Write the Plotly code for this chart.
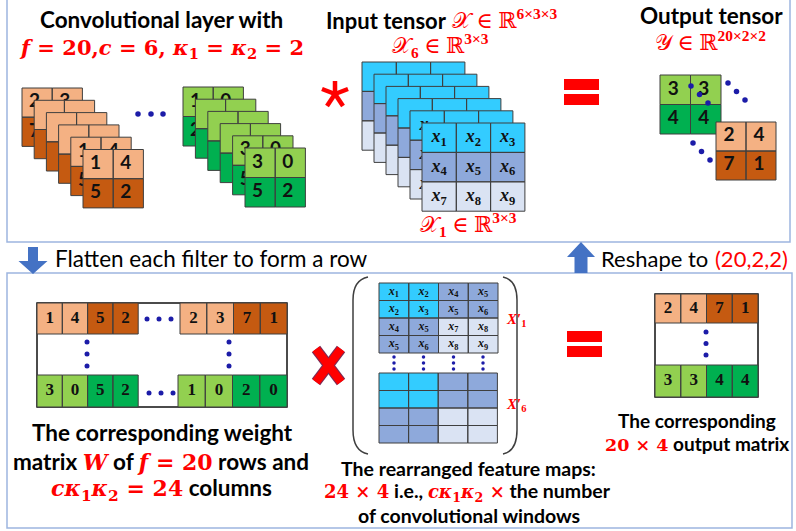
import plotly.graph_objects as go

W, H = 796, 531

# ---------------- data ----------------
orange_front = [[1, 4], [5, 2]]
orange_back = [[2, 3], [7, 1]]
green_front = [[3, 0], [5, 2]]
green_back = [[1, 0], [2, 0]]
input_front = [[1, 2, 3], [4, 5, 6], [7, 8, 9]]
output_green = [[3, 3], [4, 4]]
output_orange = [[2, 4], [7, 1]]
w_first_left = [1, 4, 5, 2]
w_first_right = [2, 3, 7, 1]
w_last_left = [3, 0, 5, 2]
w_last_right = [1, 0, 2, 0]
unfold_first = [[1, 2, 4, 5], [2, 3, 5, 6], [4, 5, 7, 8], [5, 6, 8, 9]]
out_first = [2, 4, 7, 1]
out_last = [3, 3, 4, 4]

# ---------------- styles ----------------
OR_L, OR_D = "#F4B183", "#C55A11"
GR_L, GR_D = "#92D050", "#00B050"
CY, BL, LB = "#33CCFF", "#8EA9DB", "#DAE3F3"
DOT = "#1C1CA8"
RED = "#FF0000"
EDGE = "#3F3F3F"
PANEL = "#9DB5E0"
ARROW = "#4472C4"
SANS = "Lato, Open Sans, sans-serif"
SERIF = "Liberation Serif, DejaVu Serif, serif"
MATH = "DejaVu Serif, Liberation Serif, serif"

fig = go.Figure()


def xsub(i):
    return f"<i>x</i><sub>{i}</sub>"


def add_grid(x0, y0, cws, chs, colors, texts=None, tsize=16, tfamily=SANS,
             dx=0.0, border=EDGE, bw=1.0):
    nrow, ncol = len(colors), len(colors[0])
    if not isinstance(cws, list):
        cws = [cws] * ncol
    if not isinstance(chs, list):
        chs = [chs] * nrow
    xe = [x0]
    for w in cws:
        xe.append(xe[-1] + w)
    ye = [y0]
    for h in chs:
        ye.append(ye[-1] + h)
    groups = {}
    bx, by = [], []
    for r in range(nrow):
        for c in range(ncol):
            xa, xb, ya, yb = xe[c], xe[c + 1], ye[r], ye[r + 1]
            gx, gy = groups.setdefault(colors[r][c], ([], []))
            gx += [xa, xb, xb, xa, xa, None]
            gy += [ya, ya, yb, yb, ya, None]
            bx += [xa, xb, xb, xa, xa, None]
            by += [ya, ya, yb, yb, ya, None]
    for col, (gx, gy) in groups.items():
        fig.add_trace(go.Scatter(x=gx, y=gy, mode="lines", fill="toself",
                                 fillcolor=col, line=dict(width=0, color=col),
                                 hoverinfo="skip", showlegend=False))
    fig.add_trace(go.Scatter(x=bx, y=by, mode="lines",
                             line=dict(width=bw, color=border),
                             hoverinfo="skip", showlegend=False))
    if texts is not None:
        tx, ty, tt = [], [], []
        for r in range(nrow):
            for c in range(ncol):
                if texts[r][c] is None:
                    continue
                tx.append((xe[c] + xe[c + 1]) / 2 + dx)
                ty.append((ye[r] + ye[r + 1]) / 2)
                tt.append(f"<b>{texts[r][c]}</b>")
        fig.add_trace(go.Scatter(x=tx, y=ty, mode="text", text=tt,
                                 textposition="middle center",
                                 textfont=dict(size=tsize, family=tfamily, color="#111111"),
                                 hoverinfo="skip", showlegend=False))


def add_dots(xs, ys, size=5.5):
    fig.add_trace(go.Scatter(x=xs, y=ys, mode="markers",
                             marker=dict(size=size, color=DOT, line=dict(width=0)),
                             hoverinfo="skip", showlegend=False))


shapes = []
# panels
shapes.append(dict(type="rect", x0=7, y0=-4, x1=790, y1=242, line=dict(color=PANEL, width=1.5)))
shapes.append(dict(type="rect", x0=7, y0=273, x1=792, y1=528, line=dict(color=PANEL, width=1.5)))

# ---------- top: filter stacks ----------
oc = [[OR_L, OR_L], [OR_D, OR_D]]
gc = [[GR_L, GR_L], [GR_D, GR_D]]
orange_layers = [orange_back, None, None, None, orange_front, orange_front]
green_layers = [green_back, None, None, None, green_front, green_front]
for k, vals in enumerate(orange_layers):
    add_grid(22 + 12.2 * k, 88 + 12.3 * k, 30.2, 29.2, oc, vals, tsize=19, dx=-2.5)
add_dots([138, 151, 163], [114, 114, 114])
for k, vals in enumerate(green_layers):
    add_grid(183 + 12.4 * k, 87 + 12.2 * k, 30.2, 29.5, gc, vals, tsize=19, dx=-2.5)

# ---------- input tensor ----------
ic = [[CY] * 3, [BL] * 3, [LB] * 3]
input_txt = [[xsub(v) for v in row] for row in input_front]
input_peek = [[xsub(row[0]), None, None] for row in input_front]
input_layers = [None, None, None, None, input_peek, input_txt]
for k, vals in enumerate(input_layers):
    add_grid(362 + 12 * k, 62 + 12.2 * k, 34.3, 29.4, ic, vals, tsize=18, tfamily=SERIF)

# ---------- output tensor ----------
add_grid(660, 75, 30.5, 29.5, gc, output_green, tsize=19, dx=-2)
add_grid(716, 122, 30, 29, oc, output_orange, tsize=19, dx=-2)
add_dots([691, 699.5, 708, 728, 736.5, 745, 693, 701.5, 710],
         [86, 94.5, 103, 83, 91.5, 100, 143, 151.5, 160])

# ---------- weight matrix ----------
shapes.append(dict(type="rect", x0=37, y0=303, x1=287, y1=407,
                   fillcolor="white", line=dict(color="#111111", width=1.5), layer="below"))
add_grid(37, 303, 25.3, 31, [[OR_L, OR_L, OR_D, OR_D]], [w_first_left], tsize=17, tfamily=SERIF)
add_grid(180, 303, 26.75, 31, [[OR_L, OR_L, OR_D, OR_D]], [w_first_right], tsize=17, tfamily=SERIF)
add_grid(37, 375, 25.3, 32, [[GR_L, GR_L, GR_D, GR_D]], [w_last_left], tsize=17, tfamily=SERIF)
add_grid(178, 375, 27.25, 32, [[GR_L, GR_L, GR_D, GR_D]], [w_last_right], tsize=17, tfamily=SERIF)
add_dots([147, 159, 171, 149, 161, 173, 87, 87, 87, 229, 229, 229],
         [319, 319, 319, 393, 393, 393, 342, 354, 366, 342, 354, 366], size=5)

# ---------- unfolded feature maps ----------
uc = [[CY, CY, BL, BL], [CY, CY, BL, BL], [BL, BL, LB, LB], [BL, BL, LB, LB]]
add_grid(379, 283, 29.75, 17.5, uc, [[xsub(v) for v in row] for row in unfold_first],
         tsize=12, tfamily=SERIF)
add_grid(379, 373, 29.6, 17.5, uc, None)
ux = [394, 423.5, 453.5, 483]
add_dots([x for x in ux for _ in range(3)], [357, 363, 369] * 4, size=3.5)
shapes.append(dict(type="path", path="M 368 277 Q 353 280 353 300 L 353 430 Q 353 451 368 454",
                   line=dict(color="#3F3F3F", width=1.5)))
shapes.append(dict(type="path", path="M 503 277 Q 517 280 517 300 L 517 430 Q 517 451 503 454",
                   line=dict(color="#3F3F3F", width=1.5)))

# ---------- output matrix ----------
shapes.append(dict(type="rect", x0=655, y0=294, x1=758, y1=397,
                   fillcolor="white", line=dict(color="#111111", width=1.5), layer="below"))
add_grid(655, 294, 25.75, 29, [[OR_L, OR_L, OR_D, OR_D]], [out_first], tsize=17, tfamily=SERIF)
add_grid(655, 365, 25.75, 32, [[GR_L, GR_L, GR_D, GR_D]], [out_last], tsize=17, tfamily=SERIF)
add_dots([706, 706, 706], [332, 343.5, 355], size=5)

# ---------- operators ----------
cx, cy = 335, 94
for (ax, ay) in [(335, 81), (322, 89), (348, 89), (327, 106), (343, 106)]:
    shapes.append(dict(type="line", x0=cx, y0=cy, x1=ax, y1=ay, line=dict(color=RED, width=4.5)))
for (x0, x1, ya, yb) in [(564, 599, 79, 90), (564, 599, 94, 105), (567, 602, 331, 342), (567, 602, 346, 357)]:
    shapes.append(dict(type="rect", x0=x0, x1=x1, y0=ya, y1=yb, fillcolor=RED, line=dict(width=0)))
for (x0, y0, x1, y1) in [(316, 349, 341, 382), (341, 349, 316, 382)]:
    shapes.append(dict(type="line", x0=x0, y0=y0, x1=x1, y1=y1, line=dict(color="#7A2A55", width=10.5)))
for (x0, y0, x1, y1) in [(316, 349, 341, 382), (341, 349, 316, 382)]:
    shapes.append(dict(type="line", x0=x0, y0=y0, x1=x1, y1=y1, line=dict(color=RED, width=8.5)))
shapes.append(dict(type="path", path="M 28 247 L 38 247 L 38 261 L 47.5 261 L 33 274 L 18.5 261 L 28 261 Z",
                   fillcolor=ARROW, line=dict(width=0)))
shapes.append(dict(type="path", path="M 574.5 273 L 587.5 273 L 587.5 257 L 595 257 L 581 242 L 567 257 L 574.5 257 Z",
                   fillcolor=ARROW, line=dict(width=0)))


# ---------- text ----------
def ann(x, y, text, size, color="black", family=SANS, xanchor="center"):
    return dict(x=x, y=y, xref="x", yref="y", text=text, showarrow=False,
                font=dict(size=size, color=color, family=family),
                xanchor=xanchor, yanchor="middle")


def red(t, size=None):
    s = f"font-size:{size}px;" if size else ""
    return f"<span style='color:{RED};font-family:DejaVu Serif, Liberation Serif, serif;{s}'>{t}</span>"


anns = [
    ann(161, 19, "<b>Convolutional layer with</b>", 22.5),
    ann(161, 48, "<b><i>f</i> = 20,<i>c</i> = 6, <i>κ</i><sub>1</sub> = <i>κ</i><sub>2</sub> = 2</b>", 21, RED, MATH),
    ann(324, 20, "<b>Input tensor</b>", 22, xanchor="left"),
    ann(450, 19, "𝒳 ∈ ℝ<sup><b>6×3×3</b></sup>", 22, RED, SERIF, xanchor="left"),
    ann(440, 45, "𝒳<sub><b>6</b></sub> ∈ ℝ<sup><b>3×3</b></sup>", 22, RED, SERIF),
    ann(468, 224, "𝒳<sub><b>1</b></sub> ∈ ℝ<sup><b>3×3</b></sup>", 22, RED, SERIF),
    ann(711, 15, "<b>Output tensor</b>", 22.5),
    ann(710, 41, "𝒴 ∈ ℝ<sup><b>20×2×2</b></sup>", 22, RED, SERIF),
    ann(53, 258, "Flatten each filter to form a row", 22.5, xanchor="left"),
    ann(599, 258, "Reshape to", 22, xanchor="left"),
    ann(713, 258, "(20,2,2)", 22, RED, xanchor="left"),
    ann(162, 432, "<b>The corresponding weight</b>", 22.5),
    ann(161, 461, "<b>matrix " + red("<i>W</i>", 22) + " of " + red("<i>f</i> = 20", 22) + " rows and</b>", 22.5),
    ann(161, 489, "<b>" + red("<i>cκ</i><sub>1</sub><i>κ</i><sub>2</sub> = 24", 22) + " columns</b>", 22.5),
    ann(468, 468, "<b>The rearranged feature maps:</b>", 19.5),
    ann(467, 492, "<b>" + red("24 × 4", 18) + " i.e., " + red("<i>cκ</i><sub>1</sub><i>κ</i><sub>2</sub> ×", 18) + " the number</b>", 19.5),
    ann(469, 515, "<b>of convolutional windows</b>", 19.5),
    ann(697, 420, "<b>The corresponding</b>", 19),
    ann(697, 443, "<b>" + red("20 × 4", 17.5) + " output matrix</b>", 19),
    ann(516, 320, "<b><i>X</i>′</b><sub><b>1</b></sub>", 15, RED, SERIF),
    ann(516, 405, "<b><i>X</i>′</b><sub><b>6</b></sub>", 15, RED, SERIF),
]

fig.update_layout(
    width=W, height=H, autosize=False,
    margin=dict(l=0, r=0, t=0, b=0),
    paper_bgcolor="white", plot_bgcolor="white",
    xaxis=dict(range=[0, W], visible=False, fixedrange=True),
    yaxis=dict(range=[H, 0], visible=False, fixedrange=True),
    showlegend=False, shapes=shapes, annotations=anns,
)

fig.write_html("out.html", include_plotlyjs=True,
               config={"displayModeBar": False, "staticPlot": True},
               post_script="document.body.style.margin='0px';document.body.style.overflow='hidden';")
